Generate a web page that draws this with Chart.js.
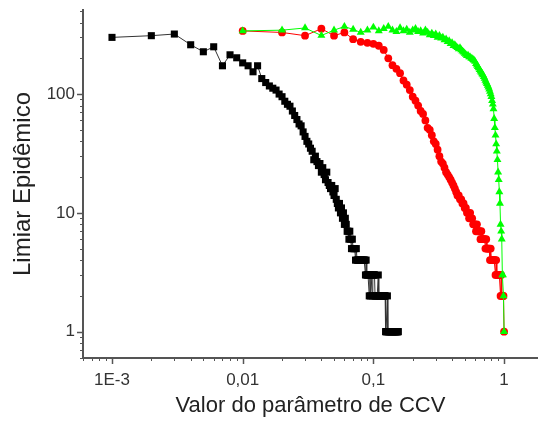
<!DOCTYPE html>
<html>
<head>
<meta charset="utf-8">
<script src="https://cdn.jsdelivr.net/npm/chart.js@4.4.0/dist/chart.umd.min.js"></script>
<style>
  html, body { margin: 0; padding: 0; background: #fff; }
  #wrap { width: 538px; height: 427px; }
</style>
</head>
<body>
<div id="wrap"><canvas id="myChart" width="538" height="427"></canvas></div>
<script>
'use strict';

// parameter grid (CCV) for each series
let blackX = [
  0.001, 0.002, 0.003, 0.004, 0.005, 0.006, 0.007, 0.008, 0.009, 0.010,
  0.011, 0.012, 0.013, 0.014, 0.015, 0.016, 0.017, 0.018, 0.019, 0.020,
  0.021, 0.022, 0.023, 0.024, 0.025, 0.026, 0.027, 0.028, 0.029, 0.030,
  0.031, 0.032, 0.033, 0.034, 0.035, 0.036, 0.037, 0.038, 0.039, 0.040,
  0.041, 0.042, 0.043, 0.044, 0.045, 0.046, 0.047, 0.048, 0.049, 0.050,
  0.051, 0.052, 0.053, 0.054, 0.055, 0.056, 0.057, 0.058, 0.059, 0.060,
  0.061, 0.062, 0.063, 0.064, 0.065, 0.066, 0.067, 0.068, 0.069, 0.070,
  0.071, 0.072, 0.073, 0.074, 0.075, 0.076, 0.077, 0.078, 0.079, 0.080,
  0.081, 0.082, 0.083, 0.084, 0.085, 0.086, 0.087, 0.088, 0.089, 0.090,
  0.091, 0.092, 0.093, 0.094, 0.095, 0.096, 0.097, 0.098, 0.099, 0.100,
  0.101, 0.102, 0.103, 0.104, 0.105, 0.106, 0.107, 0.108, 0.109, 0.110,
  0.111, 0.112, 0.113, 0.114, 0.115, 0.116, 0.117, 0.118, 0.119, 0.120,
  0.121, 0.122, 0.123, 0.124, 0.125, 0.126, 0.127, 0.128, 0.129, 0.130,
  0.131, 0.132, 0.133, 0.134, 0.135, 0.136, 0.137, 0.138, 0.139, 0.140,
  0.141, 0.142, 0.143, 0.144, 0.145, 0.146, 0.147, 0.148, 0.149, 0.150,
  0.151, 0.152, 0.153, 0.154, 0.155
];
let blackY = [
  300, 310, 320, 260, 227, 250, 173, 214, 202, 183,
  173, 154, 173, 135, 125, 117, 112, 108, 100, 95,
  87, 82, 79, 72, 66, 61, 56, 54, 48, 44,
  40, 38, 35, 33, 28, 30, 27, 25, 26, 22,
  24, 21, 19, 22, 18, 17, 16, 17, 15, 14,
  16, 13, 12, 11, 12, 10, 11, 9, 10, 8,
  9, 8, 7, 7, 6, 7, 6, 5, 6, 5,
  5, 5, 4, 5, 4, 4, 4, 4, 4, 4,
  4, 4, 4, 4, 4, 4, 3, 4, 3, 3,
  3, 3, 2, 3, 2, 3, 3, 2, 3, 3,
  3, 3, 2, 2, 2, 2, 2, 2, 3, 2,
  2, 2, 2, 2, 2, 2, 2, 2, 2, 2,
  2, 2, 2, 1, 1, 1, 1, 2, 1, 1,
  1, 1, 1, 1, 1, 1, 1, 1, 1, 1,
  1, 1, 1, 1, 1, 1, 1, 1, 1, 1,
  1, 1, 1, 1, 1
];

let colorX = [
  0.01, 0.02, 0.03, 0.04, 0.05, 0.06, 0.07, 0.08, 0.09, 0.10,
  0.11, 0.12, 0.13, 0.14, 0.15, 0.16, 0.17, 0.18, 0.19, 0.20,
  0.21, 0.22, 0.23, 0.24, 0.25, 0.26, 0.27, 0.28, 0.29, 0.30,
  0.31, 0.32, 0.33, 0.34, 0.35, 0.36, 0.37, 0.38, 0.39, 0.40,
  0.41, 0.42, 0.43, 0.44, 0.45, 0.46, 0.47, 0.48, 0.49, 0.50,
  0.51, 0.52, 0.53, 0.54, 0.55, 0.56, 0.57, 0.58, 0.59, 0.60,
  0.61, 0.62, 0.63, 0.64, 0.65, 0.66, 0.67, 0.68, 0.69, 0.70,
  0.71, 0.72, 0.73, 0.74, 0.75, 0.76, 0.77, 0.78, 0.79, 0.80,
  0.81, 0.82, 0.83, 0.84, 0.85, 0.86, 0.87, 0.88, 0.89, 0.90,
  0.91, 0.92, 0.93, 0.94, 0.95, 0.96, 0.97, 0.98, 0.99, 1.00
];
let redY = [
  340, 330, 310, 355, 310, 330, 290, 275, 270, 265,
  255, 235, 200, 175, 163, 150, 130, 120, 108, 95,
  88, 80, 72, 68, 60, 52, 50, 45, 40, 38,
  34, 30, 27, 26, 24, 22, 21, 20, 19, 18,
  17, 16, 15, 14, 14, 13, 13, 12, 12, 11,
  11, 10, 10, 9, 10, 9, 9, 8, 8, 8,
  7, 8, 7, 7, 7, 6, 7, 6, 6, 6,
  6, 5, 6, 5, 5, 5, 5, 4, 5, 4,
  4, 4, 4, 4, 4, 3, 4, 3, 3, 3,
  3, 3, 3, 2, 3, 2, 2, 2, 2, 1
];
let greenY = [
  340, 345, 360, 311, 345, 370, 350, 330, 345, 365,
  340, 355, 370, 345, 335, 360, 340, 350, 330, 345,
  355, 335, 340, 325, 345, 330, 315, 325, 310, 320,
  300, 310, 295, 300, 285, 290, 276, 280, 265, 270,
  255, 260, 250, 245, 240, 245, 235, 230, 225, 220,
  215, 210, 212, 205, 205, 200, 198, 195, 192, 188,
  180, 175, 170, 166, 160, 156, 152, 148, 145, 140,
  135, 130, 126, 122, 118, 114, 110, 105, 100, 95,
  88, 82, 75, 62, 52, 45, 38, 33, 28, 22,
  19, 15, 12, 8, 7, 6, 3, 3, 2, 1
];

let xTickValues = [0.001, 0.01, 0.1, 1];
let xTickLabels = ['1E-3', '0,01', '0,1', '1'];
let yTickValues = [1, 10, 100];
let yTickLabels = ['1', '10', '100'];

function toPoints(xs, ys) {
  let pts = [];
  for (let i = 0; i < ys.length; i++) {
    pts.push({ x: xs[i], y: ys[i] });
  }
  return pts;
}

// draws the small log ticks (major = decades, minor = 2..9)
const logTicks = {
  id: 'logTicks',
  afterDraw(chart) {
    const ctx = chart.ctx;
    const xs = chart.scales.x;
    const ys = chart.scales.y;
    ctx.save();
    ctx.strokeStyle = '#555';
    for (let e = -4; e <= 3; e++) {
      for (let m = 1; m <= 9; m++) {
        let v = m * Math.pow(10, e);
        let len = m === 1 ? 6 : 3;
        ctx.lineWidth = m === 1 ? 1.5 : 1;
        if (v >= xs.min && v <= xs.max) {
          let px = Math.round(xs.getPixelForValue(v)) + 0.5;
          ctx.beginPath();
          ctx.moveTo(px, xs.top);
          ctx.lineTo(px, xs.top + len);
          ctx.stroke();
        }
        if (v >= ys.min && v <= ys.max) {
          let py = Math.round(ys.getPixelForValue(v)) + 0.5;
          ctx.beginPath();
          ctx.moveTo(ys.right, py);
          ctx.lineTo(ys.right - len, py);
          ctx.stroke();
        }
      }
    }
    ctx.restore();
  }
};

Chart.defaults.font.family = '"Liberation Sans", Arial, sans-serif';
Chart.defaults.color = '#333';

var ctx = document.getElementById('myChart').getContext('2d');
var myChart = new Chart(ctx, {
  type: 'scatter',
  data: {
    datasets: [{
      label: 'black',
      data: toPoints(blackX, blackY),
      showLine: true,
      borderColor: '#333',
      borderWidth: 1,
      backgroundColor: '#000',
      pointStyle: 'rect',
      pointRadius: 5,
      pointBorderWidth: 0,
      order: 2
    }, {
      label: 'red',
      data: toPoints(colorX, redY),
      showLine: true,
      borderColor: '#f00',
      borderWidth: 1,
      backgroundColor: '#f00',
      pointStyle: 'circle',
      pointRadius: 3.9,
      pointBorderWidth: 0,
      order: 1
    }, {
      label: 'green',
      data: toPoints(colorX, greenY),
      showLine: true,
      borderColor: '#0f0',
      borderWidth: 1,
      backgroundColor: '#0f0',
      pointStyle: 'triangle',
      pointRadius: 4.6,
      pointBorderWidth: 0,
      order: 0
    }]
  },
  options: {
    responsive: false,
    animation: false,
    layout: { autoPadding: false, padding: { top: 10, left: 0, right: 0, bottom: 0 } },
    plugins: {
      legend: { display: false },
      tooltip: { enabled: false }
    },
    scales: {
      x: {
        type: 'logarithmic',
        min: 0.000623,
        max: 1.818,
        afterFit: function (scale) {
          scale.height = 69;
          scale.paddingLeft = 0;
          scale.paddingRight = 0;
        },
        afterBuildTicks: function (scale) {
          scale.ticks = xTickValues.map(v => ({ value: v }));
        },
        grid: { display: false, drawTicks: false },
        border: { display: true, color: '#555', width: 2 },
        ticks: {
          padding: 12,
          maxRotation: 0,
          autoSkip: false,
          font: { size: 17 },
          color: '#333',
          callback: function (value) {
            let i = xTickValues.indexOf(value);
            return i >= 0 ? xTickLabels[i] : '';
          }
        },
        title: {
          display: true,
          text: 'Valor do parâmetro de CCV',
          font: { size: 22 },
          color: '#222',
          padding: { top: 0, bottom: 8 }
        }
      },
      y: {
        type: 'logarithmic',
        min: 0.6,
        max: 510,
        afterFit: function (scale) {
          scale.width = 83;
          scale.paddingTop = 0;
          scale.paddingBottom = 0;
        },
        afterBuildTicks: function (scale) {
          scale.ticks = yTickValues.map(v => ({ value: v }));
        },
        grid: { display: false, drawTicks: false },
        border: { display: true, color: '#555', width: 2 },
        ticks: {
          padding: 8,
          autoSkip: false,
          font: { size: 17 },
          color: '#333',
          callback: function (value) {
            let i = yTickValues.indexOf(value);
            return i >= 0 ? yTickLabels[i] : '';
          }
        },
        title: {
          display: true,
          text: 'Limiar Epidêmico',
          font: { size: 24 },
          color: '#222',
          padding: { top: 9, bottom: 0 }
        }
      }
    }
  },
  plugins: [logTicks]
});
</script>
</body>
</html>
